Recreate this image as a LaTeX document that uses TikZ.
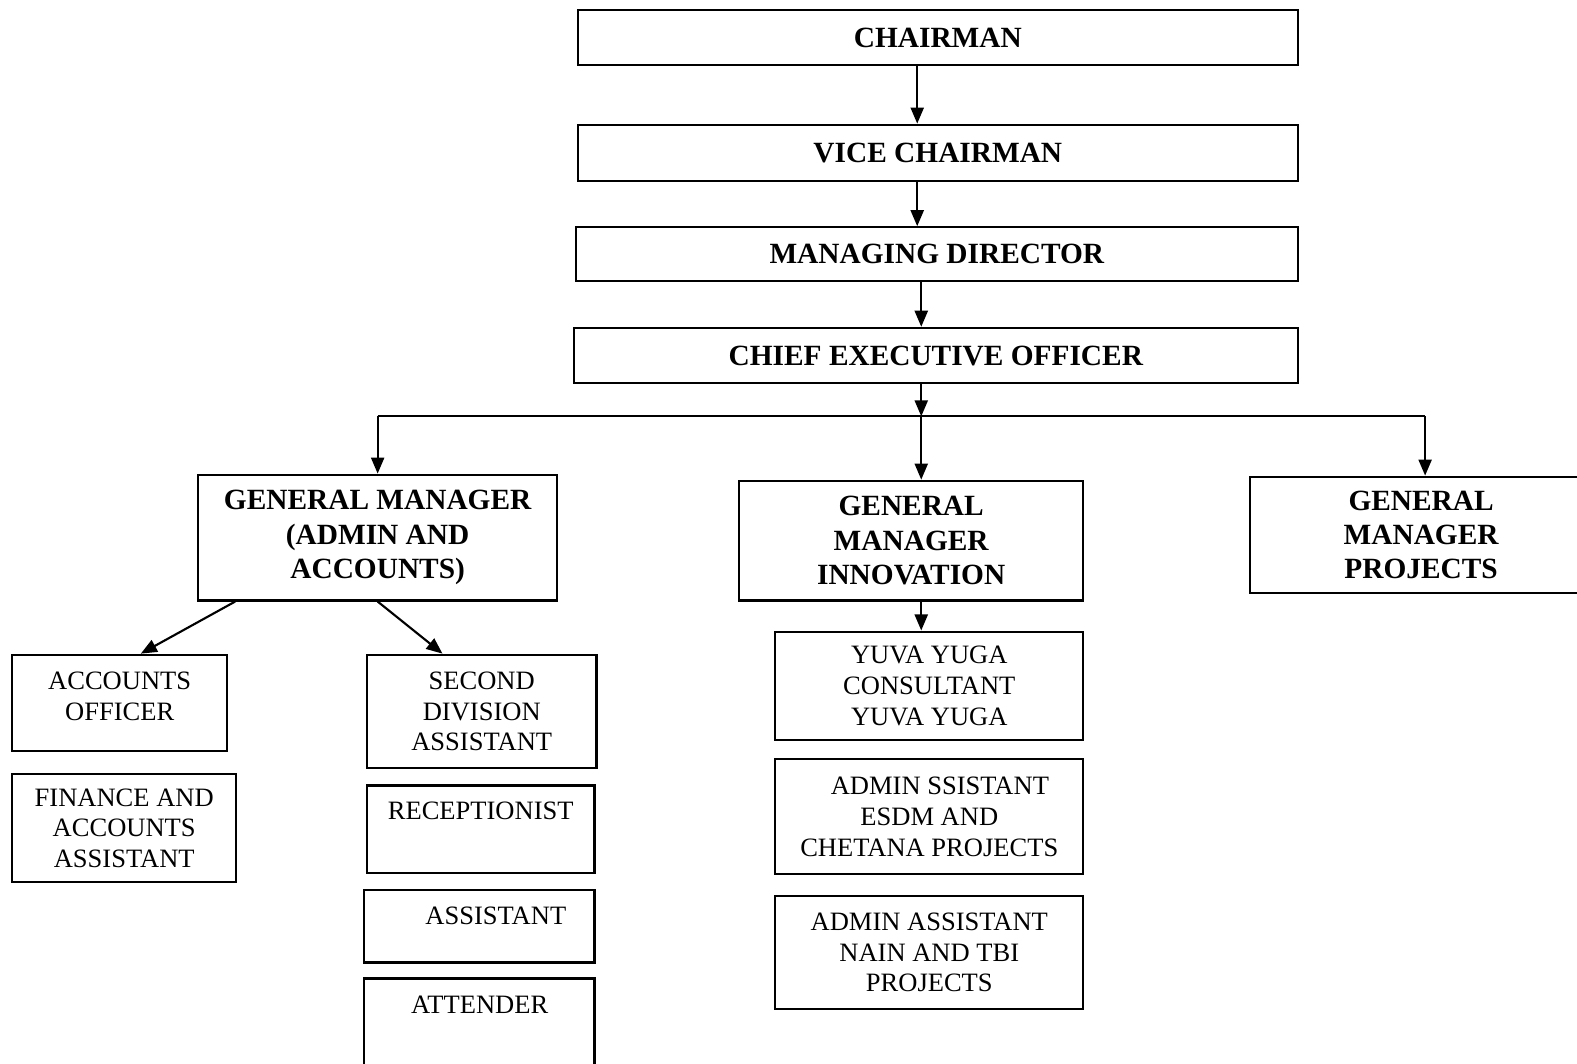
\documentclass[tikz,border=0pt]{standalone}
\usepackage{fontspec}
\setmainfont{Liberation Serif}
\usetikzlibrary{arrows.meta}

\begin{document}
\begin{tikzpicture}[x=.01cm,y=-.01cm,line width=.6pt,
        >={Triangle[length=1.6mm,width=1.3mm]},
        box/.style={draw,inner sep=0pt,align=center},
        headbox/.style={box,font=\bfseries\fontsize{8.3}{9.7}\selectfont},
        staffbox/.style={box,font=\fontsize{7.5}{8.7}\selectfont},
        stafftext/.style={inner sep=0pt,align=center,font=\fontsize{7.5}{8.7}\selectfont}]
        \useasboundingbox (0,0) rectangle (1568,1057);
        % top of the chart
        \node [headbox,minimum width=7.15cm,minimum height=.55cm] (chair) at (932.5,37.5) {CHAIRMAN};
        \node [headbox,minimum width=7.15cm,minimum height=.56cm] (vice) at (932.5,152) {VICE CHAIRMAN};
        \node [headbox,minimum width=7.17cm,minimum height=.53cm] (md) at (931.5,252.5) {MANAGING DIRECTOR};
        \node [headbox,minimum width=7.19cm,minimum height=.55cm] (ceo) at (930.5,353.5) {CHIEF EXECUTIVE OFFICER};
        % general managers
        \node [headbox,minimum width=3.57cm,minimum height=1.25cm] (gmA) at (375.5,534.5) {GENERAL MANAGER\\(ADMIN AND\\ACCOUNTS)};
        \node [headbox,minimum width=3.42cm,minimum height=1.19cm] (gmI) at (906,537.5) {GENERAL\\MANAGER\\INNOVATION};
        \node [headbox,minimum width=3.4cm,minimum height=1.16cm] (gmP) at (1413,532) {GENERAL\\MANAGER\\PROJECTS};
        % admin and accounts staff
        \node [staffbox,minimum width=2.14cm,minimum height=.96cm] (acc) at (119,699) {};
        \node [stafftext] (acc-t) at (119,692) {ACCOUNTS\\OFFICER};
        \node [staffbox,minimum width=2.23cm,minimum height=1.07cm] (fin) at (123.5,823.5) {FINANCE AND\\ACCOUNTS\\ASSISTANT};
        \node [staffbox,minimum width=2.28cm,minimum height=1.13cm] (sda) at (479,707.5) {SECOND\\DIVISION\\ASSISTANT};
        \node [staffbox,minimum width=2.26cm,minimum height=.87cm] (rec) at (478,824.5) {};
        \node [stafftext] (rec-t) at (478,806) {RECEPTIONIST};
        \node [staffbox,minimum width=2.29cm,minimum height=.72cm] (asst) at (476.5,921) {};
        \node [stafftext] (asst-t) at (493,911) {ASSISTANT};
        \node [staffbox,minimum width=2.29cm,minimum height=1cm] (att) at (476.5,1023) {};
        \node [stafftext] (att-t) at (477,999) {ATTENDER};
        % innovation staff
        \node [staffbox,minimum width=3.06cm,minimum height=1.08cm] (yuva) at (924,682) {YUVA YUGA\\CONSULTANT\\YUVA YUGA};
        \node [staffbox,minimum width=3.06cm,minimum height=1.14cm] (esdm) at (924,812) {\hspace*{.8em}ADMIN SSISTANT\\ESDM AND\\CHETANA PROJECTS};
        \node [staffbox,minimum width=3.06cm,minimum height=1.12cm] (nain) at (924,947) {ADMIN ASSISTANT\\NAIN AND TBI\\PROJECTS};
        % connectors
        \coordinate (upper) at (912,0);
        \coordinate (bus) at (916,414);
        \draw [->] (upper |- chair.south) -- (upper |- vice.north);
        \draw [->] (upper |- vice.south) -- (upper |- md.north);
        \draw [->] (bus |- md.south) -- (bus |- ceo.north);
        \draw [->] (bus |- ceo.south) -- (bus);
        \draw (gmA.north |- bus) -- ([xshift=.04cm]gmP.north |- bus);
        \draw [->] (gmA.north |- bus) -- (gmA.north);
        \draw [->] (bus) -- (bus |- gmI.north);
        \draw [->] ([xshift=.04cm]gmP.north |- bus) -- ([xshift=.04cm]gmP.north);
        \draw [->] ([xshift=.38cm]gmA.south west) -- ([xshift=.21cm]acc.north);
        \draw [->] (gmA.south) -- ([xshift=-.39cm]sda.north);
        \draw [->] (bus |- gmI.south) -- (bus |- yuva.north);
\end{tikzpicture}
\end{document}
